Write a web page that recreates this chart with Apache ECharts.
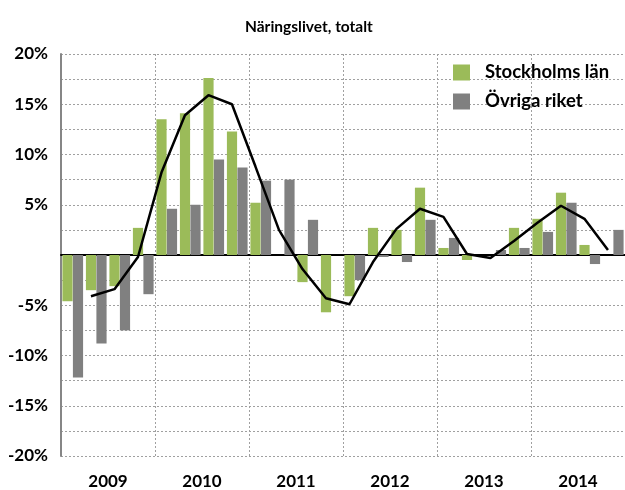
<!DOCTYPE html>
<html>
<head>
<meta charset="utf-8">
<script src="https://cdn.jsdelivr.net/npm/echarts@6/dist/echarts.min.js"></script>
<style>
  html, body { margin: 0; padding: 0; background: #fff; }
  #chart { width: 625px; height: 490px; }
</style>
</head>
<body>
<div id="chart"></div>
<script>
// kvartal 2009-2014
var years = ['2009', '2010', '2011', '2012', '2013', '2014']
var quarters = []
years.forEach(function (y) {
  for (var q = 1; q <= 4; q++) quarters.push(y + ' K' + q)
})

var stockholm = [-4.6, -3.5, -3.1, 2.7, 13.5, 14.1, 17.6, 12.3, 5.2, 0, -2.7, -5.7,
  -4.1, 2.7, 2.5, 6.7, 0.7, -0.5, 0, 2.7, 3.6, 6.2, 1.0, 0]
var ovriga = [-12.2, -8.8, -7.5, -3.9, 4.6, 5.0, 9.5, 8.7, 7.4, 7.5, 3.5, 0,
  -2.5, -0.2, -0.7, 3.5, 1.7, 0, 0.5, 0.7, 2.3, 5.2, -0.9, 2.5]
// trendlinjen (glidande medel)
var trend = [null, -4.1, -3.4, -0.2, 8.2, 13.9, 15.9, 15.0, 8.8, 2.5, -1.4, -4.3,
  -4.9, -0.7, 2.6, 4.6, 3.8, 0.1, -0.3, 1.4, 3.2, 4.9, 3.6, 0.5]

// linjen sitter mitt på den gröna stapeln
var lineShift = -0.225

var font = 'Lato, "Open Sans", sans-serif'

var chart = echarts.init(document.getElementById('chart'))
chart.setOption({
  animation: false,
  title: {
    text: 'Näringslivet, totalt',
    left: 240,
    top: 14,
    textStyle: { fontFamily: font, fontSize: 15.5, fontWeight: 'bold', color: '#000' }
  },
  legend: {
    orient: 'vertical',
    left: 448,
    top: 58,
    itemWidth: 17,
    itemHeight: 16,
    itemGap: 10,
    icon: 'rect',
    data: ['Stockholms län', 'Övriga riket'],
    textStyle: { fontFamily: font, fontSize: 18.5, fontWeight: 'bold', color: '#000', padding: [0, 0, 0, 10] }
  },
  grid: { left: 61, top: 54, width: 567, height: 403 },
  xAxis: [
    {
      type: 'category',
      data: quarters,
      position: 'bottom',
      axisLine: { onZero: true, lineStyle: { color: '#000', width: 2 } },
      axisTick: { show: false },
      axisLabel: { show: false },
      splitLine: { show: false }
    },
    {
      type: 'category',
      data: years,
      position: 'bottom',
      axisLine: { show: false, onZero: false },
      axisTick: { show: false },
      axisLabel: { margin: 17, fontFamily: font, fontSize: 17, fontWeight: 'bold', color: '#000' },
      splitLine: { show: true, lineStyle: { color: '#a0a0a0', type: [2, 2], width: 1 } }
    },
    {
      type: 'value',
      show: false,
      min: -0.5,
      max: quarters.length - 0.5
    }
  ],
  yAxis: {
    type: 'value',
    min: -20,
    max: 20,
    interval: 2.5,
    axisLine: { show: true, onZero: false, lineStyle: { color: '#868686', width: 2 } },
    axisTick: { show: false },
    axisLabel: {
      margin: 13,
      fontFamily: font,
      fontSize: 17,
      fontWeight: 'bold',
      color: '#000',
      formatter: function (v) {
        return (v % 5 === 0 && v !== 0) ? v + '%' : ''
      }
    },
    splitLine: { lineStyle: { color: '#a0a0a0', type: [2, 2], width: 1 } }
  },
  series: [
    {
      name: 'Stockholms län',
      type: 'bar',
      xAxisIndex: 0,
      data: stockholm,
      barGap: '3%',
      barCategoryGap: '12%',
      itemStyle: { color: '#9bbb59' }
    },
    {
      name: 'Övriga riket',
      type: 'bar',
      xAxisIndex: 0,
      data: ovriga,
      itemStyle: { color: '#808080' }
    },
    {
      name: 'Trend',
      type: 'line',
      xAxisIndex: 2,
      data: trend.map(function (v, i) { return v === null ? null : [i + lineShift, v] }),
      showSymbol: false,
      symbol: 'none',
      z: 5,
      lineStyle: { color: '#000', width: 2.5 }
    }
  ]
})
</script>
</body>
</html>
